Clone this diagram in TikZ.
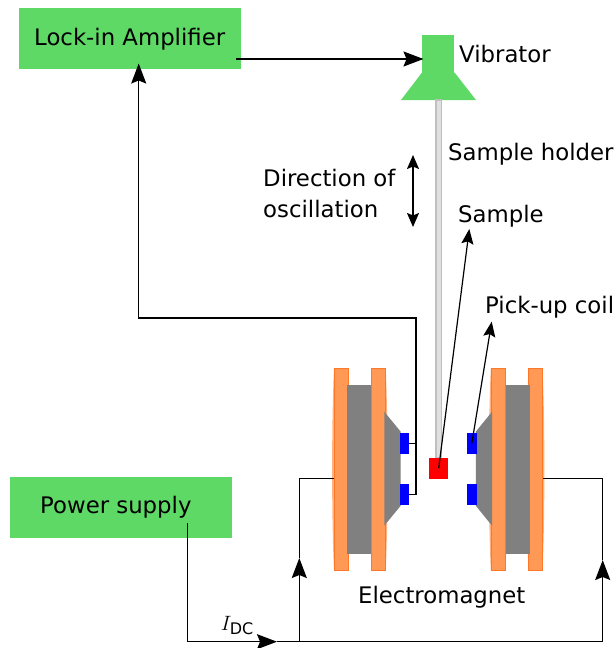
\documentclass[tikz,border=0pt]{standalone}
\usepackage{amsmath}
\usepackage{fontspec}
\setmainfont{DejaVu Sans}
\usetikzlibrary{positioning, arrows.meta, calc}

\definecolor{panelgreen}{RGB}{95,217,102}
\definecolor{plateorange}{RGB}{255,153,85}
\definecolor{plateedge}{RGB}{255,120,40}

% bowed outline and flat face of a pole plate, over its named node
\newcommand{\bowplate}[1]{
  \fill[plateorange!75!white] (#1.north west) .. controls ($(#1.west)+(-2.5,-50)$) and ($(#1.west)+(-2.5,50)$) .. (#1.south west)
    -- (#1.south east) .. controls ($(#1.east)+(2.5,50)$) and ($(#1.east)+(2.5,-50)$) .. (#1.north east) -- cycle;
}
\newcommand{\faceplate}[1]{
  \filldraw[fill=plateorange, draw=plateedge, line width=0.5pt] (#1.north west) rectangle (#1.south east);
}

\begin{document}
\begin{tikzpicture}[
    x=1pt, y=-1pt,
    panel/.style={fill=panelgreen, minimum width=222pt, minimum height=61pt, inner sep=0pt},
    block/.style={inner sep=0pt, outer sep=0pt},
    plate/.style={block, minimum width=14pt, minimum height=202pt},
    yoke/.style={block, fill=gray, minimum width=25pt, minimum height=169pt},
    coil/.style={block, fill=blue, minimum width=9.5pt, minimum height=21pt},
    pole/.style={fill=gray},
    wire/.style={line width=1.5pt},
    arr/.style={wire, -{Stealth[length=20pt, width=15pt, inset=3pt]}},
    pointer/.style={line width=1.2pt, -{Stealth[length=15pt, width=12pt, inset=2.5pt]}},
    both/.style={wire, {Stealth[length=14pt, width=12pt, inset=2.5pt]}-{Stealth[length=14pt, width=12pt, inset=2.5pt]}},
    lbl/.style={font=\fontsize{22.8}{26}\selectfont, inner sep=0pt, anchor=base west},
]
\useasboundingbox (0,0) rectangle (615,648);

% Instruments
\node[panel] (amp) at (130,38.5) {};
\node[lbl] (amptext) at (34,45) {Lock-in Amplifier};
\node[panel] (power) at (121,507) {};
\node[lbl] (powertext) at (40,513) {Power supply};

% Vibrator and holder
\fill[panelgreen] (422,72.5) -- (454.5,72.5) -- (476,100) -- (401,100) -- cycle;
\node[block, fill=panelgreen, minimum width=32.5pt, minimum height=37.5pt] (vibrator) at (438.2,53.8) {};
\node[block, fill=black!12, draw=black!25, line width=1.5pt, minimum width=5.2pt, minimum height=358pt] (holder) at (438.7,279) {};
\node[block, fill=red, minimum width=19.5pt, minimum height=21pt] (sample) at (438.7,468.2) {};

% Electromagnet
\node[plate] (plateA) at (341,469.5) {};
\node[plate] (plateB) at (378.7,469.5) {};
\node[plate] (plateC) at (497.8,469.5) {};
\node[plate] (plateD) at (535.5,469.5) {};
\foreach \p in {plateA,plateB,plateC,plateD} {\bowplate{\p}}
\faceplate{plateA}
\faceplate{plateD}
\node[yoke] (yokeL) at (359.2,469.6) {};
\node[yoke] (yokeR) at (517.5,469.6) {};
\faceplate{plateB}
\faceplate{plateC}
\fill[pole] (384.3,411.7) -- (400.7,431.7) -- (400.7,505.7) -- (384.3,525.7) -- cycle;
\fill[pole] (492,411.7) -- (475.8,431.7) -- (475.8,505.7) -- (492,525.7) -- cycle;
\node[coil] (coilLT) at (404.7,443.5) {};
\node[coil] (coilLB) at (404.7,494.5) {};
\node[coil] (coilRT) at (471.8,443.5) {};
\node[coil] (coilRB) at (471.8,494.5) {};

% Wiring points
\coordinate (ampin) at (138.7,63.5);
\coordinate (ampout) at (236,59);
\coordinate (vibin) at (423.5,59);
\coordinate (bend) at (416,318);
\coordinate (pwrout) at (187.5,523);
\coordinate (pwrtip) at (277,641.7);
\coordinate (joint) at (299.3,641.7);
\coordinate (corner) at (602.7,641.7);
\coordinate (tipL) at (299.3,558);
\coordinate (tipR) at (602.7,560);

% Signal path
\draw[arr] (ampout) -- (vibin);
\draw[wire] (coilLT.east) -- (coilLT.east -| bend);
\draw[arr] (coilLB.east) -| (bend) -| (ampin);

% Current path
\draw[arr] (pwrout) |- (pwrtip);
\draw[wire] (pwrtip) -- (corner);
\draw[arr] (joint) -- (tipL);
\draw[wire] (tipL) |- (plateA.west |- sample.south);
\draw[arr] (corner) -- (tipR);
\draw[wire] (tipR) |- (plateD.east |- sample.south);

% Labels
\node[lbl] (vibtext) at (459,62) {Vibrator};
\node[lbl] (holdertext) at (448,160) {Sample holder};
\node[lbl] (dirtext) at (263,186) {Direction of};
\node[lbl] (osctext) at (263,217) {oscillation};
\node[lbl] (sampletext) at (458,222) {Sample};
\node[lbl] (coiltext) at (485,313) {Pick-up coil};
\node[lbl] (magtext) at (358,603) {Electromagnet};
\node[lbl] (idc) at (220.7,630) {$I_{\text{DC}}$};

% Pointers
\coordinate (dirtop) at (413,155);
\coordinate (dirbot) at (413,227);
\coordinate (sampletip) at (469.3,229);
\coordinate (coiltip) at (491.7,321.7);
\draw[both] (dirtop) -- (dirbot);
\draw[pointer] (sample.center) -- (sampletip);
\draw[pointer] (coilRT.center) -- (coiltip);
\end{tikzpicture}
\end{document}
